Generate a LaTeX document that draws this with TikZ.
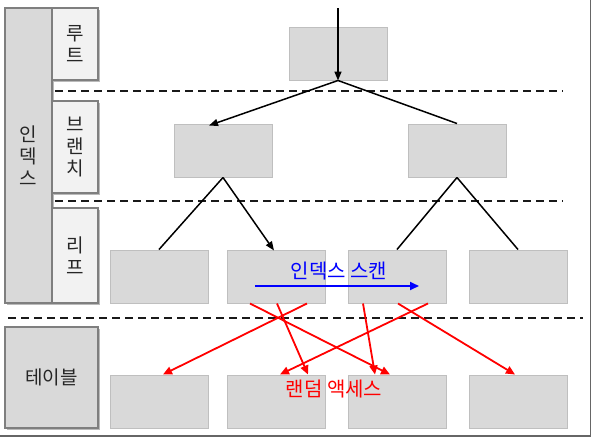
\documentclass[tikz,border=0pt]{standalone}
\usepackage{fontspec}
\newfontfamily\kr{Noto Sans CJK KR}
\usetikzlibrary{arrows.meta,shadows}
\definecolor{boxfill}{HTML}{D9D9D9}
\definecolor{boxline}{HTML}{BFBFBF}
\definecolor{lblfill}{HTML}{F2F2F2}
\definecolor{lblline}{HTML}{7F7F7F}
\definecolor{txt}{HTML}{262626}
\tikzset{
  x=1pt,y=-1pt,
  treebox/.style={draw=boxline,fill=boxfill,line width=1pt,minimum width=98pt,minimum height=53pt,inner sep=0pt},
  sidebox/.style={draw=lblline,line width=1.2pt,inner sep=0pt,align=center,text=txt,
    font=\kr\fontsize{19}{22}\selectfont,
    drop shadow={shadow xshift=2pt,shadow yshift=-2pt,opacity=0.45,fill=black!60}},
  sep/.style={dash pattern=on 8pt off 5pt,line width=1.8pt,black!90},
  blk/.style={line width=1.5pt,black},
  blkarrow/.style={blk,-{Triangle[length=9pt,width=7pt]}},
  redarrow/.style={line width=1.8pt,red,-{Triangle[length=9pt,width=8pt]}},
  note/.style={font=\kr\fontsize{20}{22}\selectfont,inner sep=0pt},
}
\begin{document}
\begin{tikzpicture}
\useasboundingbox (0,0) rectangle (595,440);
% frame
\draw[line width=1.5pt,black!60] (590.5,0) -- (590.5,436) -- (0,436);
% side labels
\node[sidebox,fill=boxfill,minimum width=47pt,minimum height=295pt] (idx) at (28.5,155.5) {인\\덱\\스};
\node[sidebox,fill=lblfill,minimum width=46pt,minimum height=72pt] (root-l) at (75,44) {루\\트};
\node[sidebox,fill=lblfill,minimum width=46pt,minimum height=92pt] (br-l) at (75,147) {브\\랜\\치};
\node[sidebox,fill=lblfill,minimum width=46pt,minimum height=95pt] (leaf-l) at (75,255.5) {리\\프};
\node[sidebox,fill=boxfill,minimum width=93pt,minimum height=101pt] (tbl-l) at (51.5,377.5) {테이블};
% separators
\coordinate (s1a) at (55,91); \coordinate (s1b) at (563,91);
\coordinate (s2a) at (55,201); \coordinate (s2b) at (563,201);
\coordinate (s3a) at (8,318); \coordinate (s3b) at (583,318);
\draw[sep] (s1a) -- (s1b);
\draw[sep] (s2a) -- (s2b);
\draw[sep] (s3a) -- (s3b);
% tree boxes
\node[treebox] (root) at (338,53.5) {};
\node[treebox] (bl) at (223,150.5) {};
\node[treebox] (br) at (457,150.5) {};
\node[treebox] (l1) at (159,276.5) {};
\node[treebox] (l2) at (276,276.5) {};
\node[treebox] (l3) at (397,276.5) {};
\node[treebox] (l4) at (518,276.5) {};
\node[treebox] (t1) at (159,401.5) {};
\node[treebox] (t2) at (276,401.5) {};
\node[treebox] (t3) at (397,401.5) {};
\node[treebox] (t4) at (518,401.5) {};
% black connectors
\coordinate (entry) at (338,8);
\draw[blkarrow] (entry) -- (root.south);
\draw[blkarrow] (root.south) -- ([xshift=-14pt,yshift=-2pt]bl.north);
\draw[blk] (root.south) -- (br.north);
\draw[blk] (bl.south) -- ([xshift=-64pt]bl.south |- l1.north);
\draw[blkarrow] (bl.south) -- ([xshift=-2pt,yshift=-1pt]l2.north);
\draw[blk] (br.south) -- ([xshift=-60pt]br.south |- l3.north);
\draw[blk] (br.south) -- ([xshift=61pt]br.south |- l4.north);
% index scan
\node[note,text=blue] (scan) at (339,271) {인덱스 스캔};
\coordinate (sa) at (255,286); \coordinate (sb) at (419,286);
\draw[line width=1.8pt,blue,-{Triangle[length=9pt,width=8pt]}] (sa) -- (sb);
% random access
\draw[redarrow] ([xshift=-26pt]l2.south) -- ([xshift=-7pt]t3.north);
\draw[redarrow] ([xshift=1pt]l2.south) -- ([xshift=32pt]t2.north);
\draw[redarrow] ([xshift=31pt]l2.south) -- ([xshift=4pt]t1.north);
\draw[redarrow] ([xshift=-34pt]l3.south) -- ([xshift=-22pt]t3.north);
\draw[redarrow] ([xshift=1pt]l3.south) -- ([xshift=-3pt]t4.north);
\draw[redarrow] ([xshift=31pt]l3.south) -- ([xshift=4pt]t2.north);
\node[note,text=red] (ra) at (334,389) {랜덤 액세스};
\end{tikzpicture}
\end{document}
